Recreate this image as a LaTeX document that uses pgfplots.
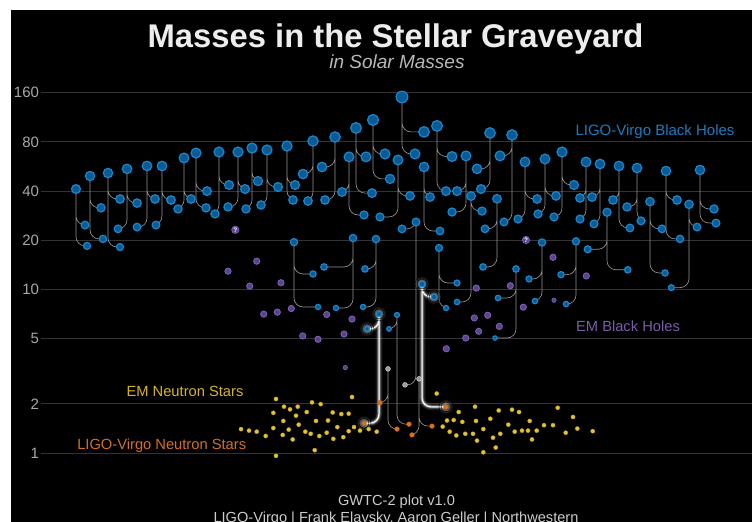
\documentclass[border=0pt]{standalone}
\usepackage{fontspec}
\setmainfont{Liberation Sans}
\usepackage{pgfplots}
\pgfplotsset{compat=1.18}
\pgfdeclarelayer{bg}
\pgfsetlayers{bg,main}
\definecolor{bhblue}{HTML}{0B5A94}
\definecolor{bhring}{HTML}{1887CC}
\definecolor{embh}{HTML}{5A438C}
\definecolor{embhring}{HTML}{7A5FB2}
\definecolor{emns}{HTML}{E4C42A}
\definecolor{lvns}{HTML}{D9721D}
\definecolor{connc}{HTML}{939393}
\definecolor{gridc}{HTML}{333333}
\definecolor{tickc}{HTML}{A8A8A8}
\definecolor{titlec}{HTML}{EDEDED}
\definecolor{subc}{HTML}{B8B8B8}
\definecolor{bhtext}{HTML}{1A7CC0}
\definecolor{embhtext}{HTML}{7A5CAA}
\definecolor{emnstext}{HTML}{D6B42A}
\definecolor{lvnstext}{HTML}{D4701E}
\pgfplotsset{glowline/.style={white, rounded corners=9pt, mark=none}}
\begin{document}
\begin{tikzpicture}
\begin{axis}[
  name=ax,
  width=711pt, height=512pt, scale only axis,
  xmin=41, xmax=752,
  ymode=log, ymin=0.3783, ymax=513.0,
  axis line style={draw=none},
  major tick length=0pt, minor tick length=0pt,
  xtick=\empty,
  ytick={1,2,5,10,20,40,80,160},
  yticklabels={1,2,5,10,20,40,80,160},
  yticklabel style={font=\fontsize{15}{15}\selectfont, text=tickc, inner sep=0pt, xshift=-1.8pt},
  /pgf/number format/assume math mode=true,
  ymajorgrids, grid style={gridc, line width=0.9pt},
  clip=false,
  unbounded coords=jump,
]
\coordinate (P0) at (axis cs:0,0.3783);
\coordinate (P1) at (axis cs:754,590.6);
\coordinate (B0) at (axis cs:11,0.3783);
\coordinate (B1) at (axis cs:752,513.0);

% ---------- connection lines (component -> remnant)
\addplot[connc, line width=0.65pt, rounded corners=9pt, mark=none] coordinates {
(85,24.8) (76,24.8) (76,41.2) (nan,nan) (87,18.5) (76,18.5) (76,41.2) (nan,nan)
(101,31.6) (90,31.6) (90,49.5) (nan,nan) (103,20.4) (90,20.4) (90,49.5) (nan,nan)
(120,35.8) (108,35.8) (108,51.6) (nan,nan) (120,18.2) (108,18.2) (108,51.6) (nan,nan)
(137,33.8) (127,33.8) (127,54.7) (nan,nan) (118,23.5) (127,23.5) (127,54.7) (nan,nan)
(155,35.8) (147,35.8) (147,57.0) (nan,nan) (137,24.1) (147,24.1) (147,57.0) (nan,nan)
(171,35.3) (162,35.3) (162,57.0) (nan,nan) (156,24.8) (162,24.8) (162,57.0) (nan,nan)
(191,35.8) (184,35.8) (184,63.8) (nan,nan) (178,31.1) (184,31.1) (184,63.8) (nan,nan)
(207,40.0) (196,40.0) (196,68.4) (nan,nan) (206,31.6) (196,31.6) (196,68.4) (nan,nan)
(229,43.6) (219,43.6) (219,69.4) (nan,nan) (215,29.0) (219,29.0) (219,69.4) (nan,nan)
(245,41.2) (238,41.2) (238,69.4) (nan,nan) (228,32.0) (238,32.0) (238,69.4) (nan,nan)
(258,46.1) (252,46.1) (252,73.4) (nan,nan) (246,31.1) (252,31.1) (252,73.4) (nan,nan)
(278,42.4) (267,42.4) (267,71.4) (nan,nan) (261,32.9) (267,32.9) (267,71.4) (nan,nan)
(295,43.6) (287,43.6) (287,75.5) (nan,nan) (293,35.3) (287,35.3) (287,75.5) (nan,nan)
(303,50.9) (313,50.9) (313,81.0) (nan,nan) (308,34.8) (313,34.8) (313,81.0) (nan,nan)
(322,56.2) (335,56.2) (335,85.7) (nan,nan) (325,35.3) (335,35.3) (335,85.7) (nan,nan)
(366,64.8) (356,64.8) (356,97.4) (nan,nan) (372,38.9) (356,38.9) (356,97.4) (nan,nan)
(385,67.5) (373,67.5) (373,109.0) (nan,nan) (390,47.5) (373,47.5) (373,109.0) (nan,nan)
(424,92.1) (402,92.1) (402,150.7) (nan,nan) (415,67.5) (402,67.5) (402,150.7) (nan,nan)
(342,39.5) (349,39.5) (349,64.8) (nan,nan) (364,28.6) (349,28.6) (349,64.8) (nan,nan)
(410,37.4) (398,37.4) (398,62.0) (nan,nan) (380,27.8) (398,27.8) (398,62.0) (nan,nan)
(452,65.1) (437,65.1) (437,100.2) (nan,nan) (446,40.0) (437,40.0) (437,100.2) (nan,nan)
(430,36.8) (424,36.8) (424,56.2) (nan,nan) (440,22.8) (424,22.8) (424,56.2) (nan,nan)
(457,40.0) (466,40.0) (466,65.7) (nan,nan) (452,29.8) (466,29.8) (466,65.7) (nan,nan)
(477,54.7) (490,54.7) (490,90.7) (nan,nan) (481,41.2) (490,41.2) (490,90.7) (nan,nan)
(500,65.7) (512,65.7) (512,88.2) (nan,nan) (504,25.9) (512,25.9) (512,88.2) (nan,nan)
(537,35.8) (525,35.8) (525,60.3) (nan,nan) (518,27.0) (525,27.0) (525,60.3) (nan,nan)
(556,37.4) (545,37.4) (545,62.9) (nan,nan) (538,29.0) (545,29.0) (545,62.9) (nan,nan)
(574,43.6) (562,43.6) (562,69.4) (nan,nan) (554,27.8) (562,27.8) (562,69.4) (nan,nan)
(580,36.3) (586,36.3) (586,60.3) (nan,nan) (580,27.0) (586,27.0) (586,60.3) (nan,nan)
(592,36.8) (600,36.8) (600,58.6) (nan,nan) (594,25.2) (600,25.2) (600,58.6) (nan,nan)
(613,35.3) (619,35.3) (619,57.0) (nan,nan) (630,23.8) (619,23.8) (619,57.0) (nan,nan)
(627,32.0) (637,32.0) (637,55.4) (nan,nan) (641,26.3) (637,26.3) (637,55.4) (nan,nan)
(677,35.3) (666,35.3) (666,53.1) (nan,nan) (680,20.4) (666,20.4) (666,53.1) (nan,nan)
(714,31.1) (700,31.1) (700,53.9) (nan,nan) (716,25.5) (700,25.5) (700,53.9) (nan,nan)
(662,23.5) (650,23.5) (650,34.5) (nan,nan) (665,12.63) (650,12.63) (650,34.5) (nan,nan)
(697,24.1) (689,24.1) (689,33.2) (nan,nan) (671.3,10.27) (689,10.27) (689,33.2) (nan,nan)
(587.7,17.63) (607,17.63) (607,29.7) (nan,nan) (627.7,13.2) (607,13.2) (607,29.7) (nan,nan)
(561,12.33) (576,12.33) (576,19.7) (nan,nan) (566,8.15) (576,8.15) (576,19.7) (nan,nan)
(402,23.5) (416,23.5) (416,25.9) (nan,nan) (405,2.61) (416,2.61) (416,25.9) (nan,nan)
(482,30.2) (471,30.2) (471,37.3) (nan,nan) (457,8.39) (471,8.39) (471,37.3) (nan,nan)
(485,23.5) (497,23.5) (497,35.9) (nan,nan) (483,13.74) (497,13.74) (497,35.9) (nan,nan)
(313,12.45) (294,12.45) (294,19.5) (nan,nan) (318,7.82) (294,7.82) (294,19.5) (nan,nan)
(324,13.74) (353,13.74) (353,20.65) (nan,nan) (336,7.71) (353,7.71) (353,20.65) (nan,nan)
(365,13.36) (376,13.36) (376,20.36) (nan,nan) (363,7.82) (376,7.82) (376,20.36) (nan,nan)
(457,10.96) (439,10.96) (439,17.96) (nan,nan) (446,7.71) (439,7.71) (439,17.96) (nan,nan)
(498,8.88) (516,8.88) (516,13.36) (nan,nan) (495,5.05) (516,5.05) (516,13.36) (nan,nan)
(529,11.6) (542,11.6) (542,19.4) (nan,nan) (535,8.5) (542,8.5) (542,19.4) (nan,nan)
(389,5.74) (397,5.74) (397,6.99) (nan,nan) (409,1.50) (397,1.50) (397,6.99) (nan,nan)
(380,2.03) (388,2.03) (388,3.27) (nan,nan) (397,1.40) (388,1.40) (388,3.27) (nan,nan)
(412,1.29) (419,1.29) (419,2.84) (nan,nan) (432,1.46) (419,1.46) (419,2.84) (nan,nan)
};

% ---------- glowing connections
\addplot[glowline, line width=7pt, opacity=0.08] coordinates {
(367,5.74) (379,5.74) (379,7.09) (nan,nan) (364,1.52) (379,1.52) (379,7.09) (nan,nan)
(434,9.00) (422,9.00) (422,10.81) (nan,nan) (446,1.915) (422,1.915) (422,10.81)};
\addplot[glowline, line width=4.5pt, opacity=0.18] coordinates {
(367,5.74) (379,5.74) (379,7.09) (nan,nan) (364,1.52) (379,1.52) (379,7.09) (nan,nan)
(434,9.00) (422,9.00) (422,10.81) (nan,nan) (446,1.915) (422,1.915) (422,10.81)};
\addplot[glowline, line width=2.6pt, opacity=0.4] coordinates {
(367,5.74) (379,5.74) (379,7.09) (nan,nan) (364,1.52) (379,1.52) (379,7.09) (nan,nan)
(434,9.00) (422,9.00) (422,10.81) (nan,nan) (446,1.915) (422,1.915) (422,10.81)};
\addplot[glowline, line width=1pt, opacity=1] coordinates {
(367,5.74) (379,5.74) (379,7.09) (nan,nan) (364,1.52) (379,1.52) (379,7.09) (nan,nan)
(434,9.00) (422,9.00) (422,10.81) (nan,nan) (446,1.915) (422,1.915) (422,10.81)};
\addplot[only marks, mark=*, mark size=7pt, mark options={fill=white, fill opacity=0.12, draw=none}]
 coordinates {(379,7.09) (367,5.74) (422,10.81) (434,9.00) (364,1.52) (446,1.915)};
\addplot[only marks, mark=*, mark size=5pt, mark options={fill=white, fill opacity=0.25, draw=none}]
 coordinates {(379,7.09) (367,5.74) (422,10.81) (434,9.00) (364,1.52) (446,1.915)};

% ---------- EM neutron stars
\addplot[only marks, mark=*, mark size=2.1pt, mark options={fill=emns, draw=emns!80!black, line width=0.3pt}] table {
x m
276 2.14
284 1.92
290 1.85
297.7 1.92
312 2.04
320.7 1.99
352 2.20
273.3 1.76
296 1.69
306.7 1.78
332.7 1.77
341.3 1.73
348.7 1.74
283.3 1.57
298.7 1.49
316 1.57
328 1.58
337.3 1.44
354 1.44
360 1.37
368.7 1.40
376.7 1.35
241 1.40
249 1.37
256.7 1.35
265.7 1.27
273.3 1.42
282.7 1.29
288.7 1.39
292.7 1.21
305.3 1.35
310.7 1.31
319.3 1.27
326.7 1.33
333.3 1.22
343.3 1.25
348.7 1.36
314.7 1.04
276 0.96
436.7 2.31
458.7 1.78
475 1.92
498.7 1.82
512 1.84
519 1.78
557.7 1.89
447 1.58
453.7 1.59
462.3 1.55
476 1.57
490.3 1.62
529.7 1.57
573 1.66
442.7 1.45
449.7 1.35
456.3 1.28
465.3 1.31
473 1.31
483.3 1.40
477 1.19
493 1.24
500.3 1.31
508.3 1.49
514.7 1.35
522 1.37
528 1.37
536.7 1.37
544 1.48
553 1.48
532 1.21
565.7 1.33
577.3 1.41
592.7 1.36
495.7 1.08
483.3 1.01
};

% ---------- LIGO-Virgo neutron stars
\addplot[only marks, mark=*, mark size=2.4pt, mark options={fill=lvns, draw=lvns!80!black, line width=0.3pt}] coordinates {
(364,1.52) (446,1.915) (409,1.50) (380,2.03) (397,1.40) (412,1.29) (432,1.46)
};
% ---------- grey (mass gap) objects
\addplot[only marks, mark=*, mark size=2.4pt, mark options={fill=gray!80, draw=white!85!black, line width=0.5pt}] coordinates {
(388,3.27) (419,2.84) (405,2.61)
};

% ---------- EM black holes
\addplot[only marks, mark=*, mark size=3.1pt, mark options={fill=embh, draw=embhring, line width=0.9pt}] coordinates {
(256.7,14.9) (228,12.95) (249.7,10.5) (281,11.0) (263.7,7.07) (277.3,7.27) (291.3,7.65)
(326.7,7.03) (352,6.6) (302.7,5.2) (318,4.96) (344,5.34) (476.3,10.2) (510.3,10.55)
(523.3,7.8) (474.3,6.7) (487.7,6.96) (499.3,5.95) (478.7,5.55) (465.7,5.05) (446.3,4.34)
(553,15.75) (586.3,12.11)
};
\addplot[only marks, mark=*, mark size=2.2pt, mark options={fill=embh, draw=embhring, line width=0.6pt}] coordinates {(345.3,3.33) (554,8.6)};
\addplot[only marks, mark=*, mark size=3.6pt, mark options={fill=embh, draw=embhring, line width=0.8pt},
  nodes near coords={?}, nodes near coords align={center},
  every node near coord/.style={anchor=center, inner sep=0pt, text=white, font=\bfseries\fontsize{6.5}{6.5}\selectfont}]
 coordinates {(235.3,23.2) (526,20.1)};

% ---------- LIGO-Virgo black holes
\addplot[scatter, only marks, mark=*,
  scatter/use mapped color={draw=bhring, fill=bhblue},
  mark options={line width=1.2pt},
  visualization depends on={2.5+0.75*ln(\thisrow{m}/7)/ln(2) \as \rr},
  scatter/@pre marker code/.append style={/tikz/mark size=\rr pt}] table {
x m
76 41.2
85 24.8
87 18.5
90 49.5
101 31.6
103 20.4
108 51.6
120 35.8
120 18.2
127 54.7
137 33.8
118 23.5
147 57.0
155 35.8
137 24.1
162 57.0
171 35.3
156 24.8
184 63.8
191 35.8
178 31.1
196 68.4
207 40.0
206 31.6
219 69.4
229 43.6
215 29.0
238 69.4
245 41.2
228 32.0
252 73.4
258 46.1
246 31.1
267 71.4
278 42.4
261 32.9
287 75.5
295 43.6
293 35.3
313 81.0
303 50.9
308 34.8
335 85.7
322 56.2
325 35.3
356 97.4
366 64.8
372 38.9
373 109.0
385 67.5
390 47.5
402 150.7
424 92.1
415 67.5
349 64.8
342 39.5
364 28.6
398 62.0
410 37.4
380 27.8
437 100.2
452 65.1
446 40.0
424 56.2
430 36.8
440 22.8
466 65.7
457 40.0
452 29.8
490 90.7
477 54.7
481 41.2
512 88.2
500 65.7
504 25.9
525 60.3
537 35.8
518 27.0
545 62.9
556 37.4
538 29.0
562 69.4
574 43.6
554 27.8
586 60.3
580 36.3
580 27.0
600 58.6
592 36.8
594 25.2
619 57.0
613 35.3
630 23.8
637 55.4
627 32.0
641 26.3
666 53.1
677 35.3
680 20.4
700 53.9
714 31.1
716 25.5
650 34.5
662 23.5
665 12.63
689 33.2
697 24.1
671.3 10.27
607 29.7
587.7 17.63
627.7 13.2
576 19.7
561 12.33
566 8.15
416 25.9
402 23.5
471 37.3
482 30.2
457 8.39
497 35.9
485 23.5
483 13.74
294 19.5
313 12.45
318 7.82
353 20.65
324 13.74
336 7.71
376 20.36
365 13.36
363 7.82
439 17.96
457 10.96
446 7.71
516 13.36
498 8.88
495 5.05
542 19.4
529 11.6
535 8.5
397 6.99
389 5.74
379 7.09
367 5.74
422 10.81
434 9.00
};

% ---------- texts
\node[anchor=base, font=\bfseries\fontsize{32.8}{36}\selectfont, text=titlec] at (axis cs:395.5,302) {Masses in the Stellar Graveyard};
\node[anchor=base, font=\itshape\fontsize{19}{21}\selectfont, text=subc] at (axis cs:397,224) {in Solar Masses};
\node[font=\fontsize{15}{15}\selectfont, text=bhtext] at (axis cs:655,92.4) {LIGO-Virgo Black Holes};
\node[font=\fontsize{14.7}{15}\selectfont, text=embhtext] at (axis cs:628,5.98) {EM Black Holes};
\node[font=\fontsize{14.7}{15}\selectfont, text=emnstext] at (axis cs:185,2.395) {EM Neutron Stars};
\node[font=\fontsize{14.7}{15}\selectfont, text=lvnstext] at (axis cs:161.7,1.104) {LIGO-Virgo Neutron Stars};
\node[anchor=base, font=\fontsize{14.6}{15}\selectfont, text=white!80!black] at (axis cs:396.5,0.474) {GWTC-2 plot v1.0};
\node[anchor=base, font=\fontsize{14.6}{15}\selectfont, text=white!80!black] at (axis cs:396,0.373) {LIGO-Virgo | Frank Elavsky, Aaron Geller | Northwestern};
\end{axis}
\begin{pgfonlayer}{bg}
\fill[white] (P0) rectangle (P1);
\fill[black] (B0) rectangle (B1);
\end{pgfonlayer}
\pgfresetboundingbox
\path[use as bounding box] (P0) rectangle (P1);
\end{tikzpicture}
\end{document}
